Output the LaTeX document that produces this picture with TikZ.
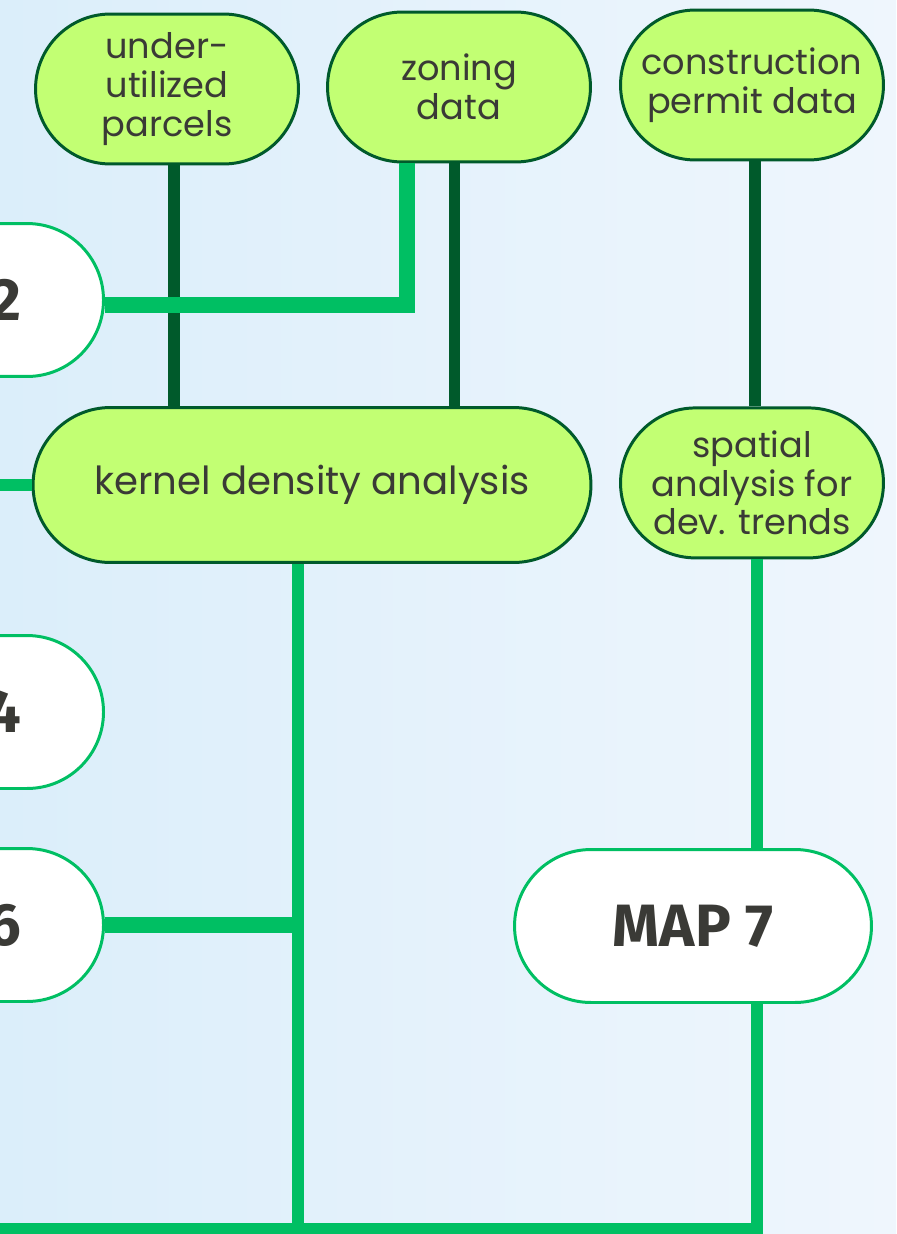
\documentclass[tikz,border=0pt]{standalone}
\usepackage{fontspec}
\setmainfont{Poppins}
\newfontfamily\mapfont{Fira Sans}
\usetikzlibrary{positioning}
\definecolor{lime}{HTML}{C2FF73}
\definecolor{forest}{HTML}{005A2B}
\definecolor{mint}{HTML}{00BF63}
\definecolor{ink}{HTML}{3A3A36}
\definecolor{skyL}{HTML}{DBEEFA}
\definecolor{skyM}{HTML}{DDF0FB}
\definecolor{skyR}{HTML}{EFF6FD}

\begin{document}
\begin{tikzpicture}[
    x = 0.02cm,
    y = -0.02cm,
    font = \fontsize{20}{22}\selectfont,
    text = ink,
    srcbox/.style = {draw=forest, line width=1.7pt, fill=lime, rounded corners=1.5cm,
        minimum width=5.26cm, minimum height=3cm, align=center, inner sep=0pt},
    mapbox/.style = {draw=mint, line width=1.7pt, fill=white, rounded corners=1.53cm,
        minimum width=7.14cm, minimum height=3.06cm, inner sep=0pt,
        font=\mapfont\bfseries\fontsize{34}{36}\selectfont},
    darklink/.style = {draw=forest, line width=6.8pt},
    lightlink/.style = {draw=mint, line width=6.8pt}]
    \useasboundingbox (0,0) rectangle (896,1234);
    % BACKGROUND
    \shade[left color=skyL, middle color=skyM, right color=skyR] (0,0) rectangle (896,1234);

    % NODES
    % input data
    \node[srcbox] (UP) at (167,89) {under-\\utilized\\parcels};
    \node[srcbox] (ZD) at (459,87) {zoning\\data};
    \node[srcbox] (CP) at (752,85) {construction\\permit data};
    % analysis
    \node[srcbox, minimum width=11.16cm, minimum height=3.1cm, rounded corners=1.55cm,
        font=\fontsize{22}{24}\selectfont] (KD) at (312,485) {kernel density analysis};
    \node[srcbox, below = 4.9cm of CP] (SA) {spatial\\analysis for\\dev. trends};
    % maps
    \node[mapbox, anchor=east, text width=3.86cm, align=right, inner xsep=1.64cm] (M2) at (105,300) {2};
    \node[mapbox, anchor=east, text width=3.86cm, align=right, inner xsep=1.64cm] (M4) at (105,712) {4};
    \node[mapbox, anchor=east, text width=3.86cm, align=right, inner xsep=1.64cm] (M6) at (105,925) {6};
    \node[mapbox] (M7) at (693,926) {MAP 7};
    % free ends
    \coordinate (in3) at (0,485);
    \coordinate (bot) at (0,1229);
    \coordinate (KDout) at ([xshift=-0.28cm]KD.south);

    % LINKS
    \draw[darklink] ([xshift=0.14cm]UP.south) -- ([xshift=0.14cm]UP.south |- KD.north);
    \draw[darklink] ([xshift=-0.09cm]ZD.south) -- ([xshift=-0.09cm]ZD.south |- KD.north);
    \draw[darklink] ([xshift=0.06cm]CP.south) -- ([xshift=0.06cm]CP.south |- SA.north);
    \draw[lightlink, line width=9pt] ([yshift=-0.1cm]M2.east) -| ([xshift=-1.04cm]ZD.south);
    \draw[lightlink] (in3) -- (KD.west);
    \draw[lightlink] (KDout) -- (KDout |- bot);
    \draw[lightlink, line width=9pt] (M6.east) -- (M6.east -| KDout);
    \draw[lightlink] ([xshift=0.1cm]SA.south) -- ([xshift=0.1cm]SA.south |- M7.north);
    \draw[lightlink] (bot) -| ([xshift=0.1cm]SA.south |- M7.south);
  \end{tikzpicture}
\end{document}
